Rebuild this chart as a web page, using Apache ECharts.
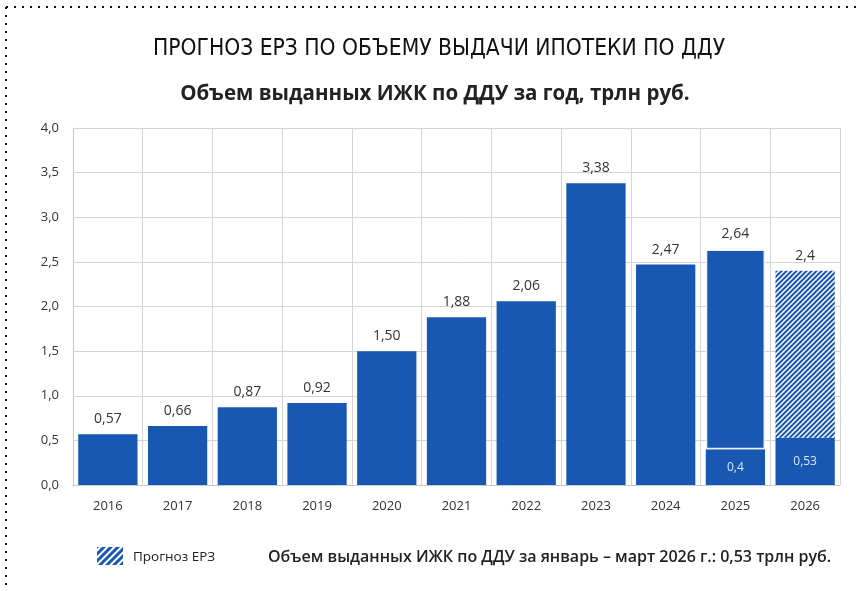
<!DOCTYPE html>
<html><head><meta charset="utf-8">
<script src="https://cdn.jsdelivr.net/npm/echarts@6/dist/echarts.min.js"></script>
<style>html,body{margin:0;padding:0;background:#fff}#c{width:856px;height:591px}</style>
</head><body><div id="c"></div>
<script>
const categories = ['2016','2017','2018','2019','2020','2021','2022','2023','2024','2025','2026'];
const totals = [0.57,0.66,0.87,0.92,1.50,1.88,2.06,3.38,2.47,2.64,2.4];
const totalLabels = ['0,57','0,66','0,87','0,92','1,50','1,88','2,06','3,38','2,47','2,64','2,4'];
const baseValues = [0.57,0.66,0.87,0.92,1.50,1.88,2.06,3.38,2.47,0.4,0.53];
const baseLabels = [null,null,null,null,null,null,null,null,null,'0,4','0,53'];
const yTicks = ['0,0','0,5','1,0','1,5','2,0','2,5','3,0','3,5','4,0'];
const forecastIndex = 10;

const BLUE = '#1857b2';
const FONT = 'Open Sans, Noto Sans, sans-serif';

function hatchCanvas(size, bg, fg, lw) {
  const c = document.createElement('canvas');
  c.width = size; c.height = size;
  const g = c.getContext('2d');
  if (bg) { g.fillStyle = bg; g.fillRect(0,0,size,size); }
  g.strokeStyle = fg; g.lineWidth = lw;
  g.beginPath();
  g.moveTo(-1, size+1); g.lineTo(size+1, -1);
  g.moveTo(-1, 1); g.lineTo(1, -1);
  g.moveTo(size-1, size+1); g.lineTo(size+1, size-1);
  g.stroke();
  return c;
}
const barHatch = hatchCanvas(5, BLUE, '#ffffff', 1.5);
const legendHatch = hatchCanvas(7, '#ffffff', BLUE, 3);

const baseData = baseValues.map((v, i) => {
  const item = { value: v };
  if (baseLabels[i]) {
    item.label = { show: true, position: 'inside', formatter: baseLabels[i], color: '#dbe6f7', fontSize: 12 };
  } else {
    item.label = { show: true, position: 'top', formatter: totalLabels[i] };
  }
  return item;
});
const topData = totals.map((t, i) => {
  if (!baseLabels[i]) return null;
  const item = { value: +(t - baseValues[i]).toFixed(2), label: { show: true, position: 'top', formatter: totalLabels[i] } };
  if (i === forecastIndex) {
    item.itemStyle = { color: { image: barHatch, repeat: 'repeat' }, borderWidth: 0 };
  } else {
    item.itemStyle = { color: BLUE, borderColor: '#eef3fb', borderWidth: 1.5 };
  }
  return item;
});

const chart = echarts.init(document.getElementById('c'), null, { renderer: 'canvas' });
chart.setOption({
  animation: false,
  backgroundColor: '#ffffff',
  grid: { left: 73, right: 16, top: 128, bottom: 106, containLabel: false },
  title: [
    { text: 'ПРОГНОЗ ЕРЗ ПО ОБЪЕМУ ВЫДАЧИ ИПОТЕКИ ПО ДДУ', left: 434, top: 33, textAlign: 'center',
      textStyle: { fontFamily: 'Liberation Sans Narrow, DejaVu Sans Condensed, sans-serif', fontSize: 22.6, fontWeight: 'normal', color: '#111' } },
    { text: 'Объем выданных ИЖК по ДДУ за год, трлн руб.', left: 430, top: 79, textAlign: 'center',
      textStyle: { fontFamily: 'Open Sans, sans-serif', fontSize: 20.5, fontWeight: 'bold', color: '#222' } }
  ],
  xAxis: {
    type: 'category', data: categories,
    axisLine: { show: true, lineStyle: { color: '#c9c9c9' } },
    axisTick: { show: false },
    axisLabel: { color: '#333', fontSize: 13, fontFamily: FONT, margin: 15 },
    splitLine: { show: true, lineStyle: { color: '#d4d4d4' } }
  },
  yAxis: {
    type: 'value', min: 0, max: 4, interval: 0.5,
    axisLine: { show: true, lineStyle: { color: '#c9c9c9' } },
    axisTick: { show: false },
    axisLabel: { color: '#333', fontSize: 13, fontFamily: FONT, margin: 14,
      formatter: (v) => yTicks[Math.round(v / 0.5)] },
    splitLine: { show: true, lineStyle: { color: '#d4d4d4' } }
  },
  series: [
    { type: 'bar', stack: 'a', data: baseData, barCategoryGap: '15%',
      itemStyle: { color: BLUE },
      label: { color: '#333', fontSize: 14, fontFamily: FONT, distance: 8 } },
    { type: 'bar', stack: 'a', data: topData, barCategoryGap: '15%',
      itemStyle: { color: BLUE },
      label: { color: '#333', fontSize: 14, fontFamily: FONT, distance: 8 } }
  ],
  graphic: [
    { type: 'line', shape: { x1: 6, y1: 7, x2: 856, y2: 7 }, style: { stroke: '#111', lineWidth: 2, lineDash: [2, 6] } },
    { type: 'line', shape: { x1: 6, y1: 7, x2: 6, y2: 591 }, style: { stroke: '#111', lineWidth: 2, lineDash: [2, 6] } },
    { type: 'rect', shape: { x: 97, y: 547, width: 26, height: 18 }, style: { fill: { image: legendHatch, repeat: 'repeat' } } },
    { type: 'text', x: 133, y: 557, style: { text: 'Прогноз ЕРЗ', fill: '#222', font: '500 13.5px Open Sans, sans-serif', textVerticalAlign: 'middle' } },
    { type: 'text', x: 268, y: 557, style: { text: 'Объем выданных ИЖК по ДДУ за январь – март 2026 г.: 0,53 трлн руб.', fill: '#222', font: '600 16px Open Sans, sans-serif', textVerticalAlign: 'middle' } }
  ]
});
</script>
</body></html>
